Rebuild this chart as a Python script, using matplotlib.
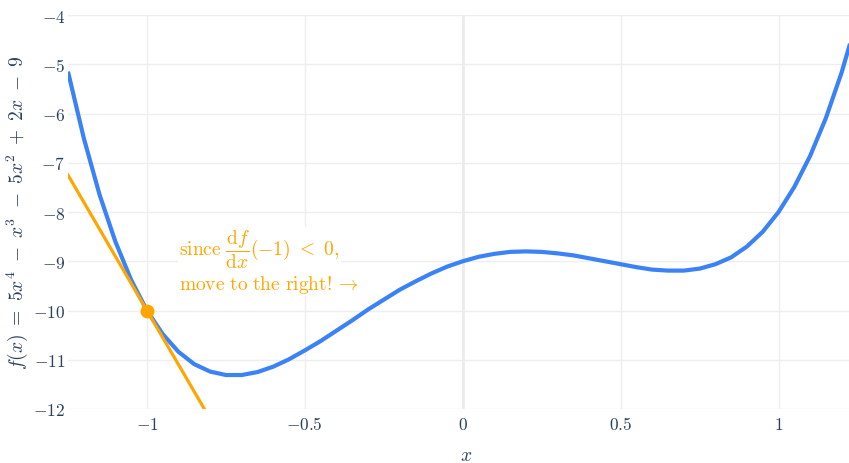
import matplotlib
matplotlib.use("Agg")
import matplotlib.pyplot as plt

plt.rcParams['mathtext.fontset'] = 'cm'
plt.rcParams['font.family'] = ['DejaVu Serif']

# curve values
xs = [-1.25, -1.20, -1.15, -1.10, -1.05, -1.00, -0.95, -0.90, -0.85, -0.80,
      -0.75, -0.70, -0.65, -0.60, -0.55, -0.50, -0.45, -0.40, -0.35, -0.30,
      -0.25, -0.20, -0.15, -0.10, -0.05, 0.00, 0.05, 0.10, 0.15, 0.20,
      0.25, 0.30, 0.35, 0.40, 0.45, 0.50, 0.55, 0.60, 0.65, 0.70,
      0.75, 0.80, 0.85, 0.90, 0.95, 1.00, 1.05, 1.10, 1.15, 1.20, 1.25]
ys = [-5.15, -6.50, -7.65, -8.60, -9.38, -10.00, -10.48, -10.84, -11.09, -11.24,
      -11.31, -11.31, -11.25, -11.14, -10.99, -10.81, -10.62, -10.41, -10.20, -9.98,
      -9.78, -9.58, -9.41, -9.25, -9.11, -9.00, -8.91, -8.85, -8.81, -8.80,
      -8.81, -8.84, -8.88, -8.94, -9.00, -9.06, -9.12, -9.17, -9.19, -9.19,
      -9.15, -9.06, -8.92, -8.70, -8.40, -8.00, -7.49, -6.86, -6.09, -5.16, -4.06]

# tangent at x = -1
tan_x = [-1.25, -0.75]
tan_y = [-7.25, -12.75]
pt_x = [-1.0]
pt_y = [-10.0]

xticks = [-1, -0.5, 0, 0.5, 1]
xtick_labels = ['$-1$', '$-0.5$', '$0$', '$0.5$', '$1$']
yticks = [-12, -11, -10, -9, -8, -7, -6, -5, -4]
ytick_labels = ['$-%d$' % (-v) for v in yticks]

blue = '#3b82f6'
orange = '#ffa500'
txt = '#2a3f5f'

fig = plt.figure(figsize=(8.49, 4.64), dpi=100)
ax = fig.add_axes([68/849, 54/464, 1 - 68/849, 394/464])

ax.plot(xs, ys, color=blue, lw=3, solid_capstyle='butt', zorder=3)
ax.plot(tan_x, tan_y, color=orange, lw=2.3, zorder=4)
ax.plot(pt_x, pt_y, 'o', color=orange, ms=9, zorder=5)

ax.text(-0.897, -8.894, r'$\mathrm{since}\ \dfrac{\mathrm{d}f}{\mathrm{d}x}(-1)\ <\ 0,$',
        color=orange, fontsize=14, va='baseline', ha='left', zorder=6,
        bbox=dict(facecolor='white', edgecolor='none', pad=1))
ax.text(-0.897, -9.563, r'$\mathrm{move\ to\ the\ right!} \rightarrow$',
        color=orange, fontsize=14, va='baseline', ha='left', zorder=6,
        bbox=dict(facecolor='white', edgecolor='none', pad=1))

ax.set_xlim(-1.25, 1.223)
ax.set_ylim(-12, -4)
ax.set_xticks(xticks)
ax.set_xticklabels(xtick_labels)
ax.set_yticks(yticks)
ax.set_yticklabels(ytick_labels)
ax.tick_params(length=0, labelsize=12.5, colors=txt)
ax.tick_params(axis='y', pad=2)
ax.tick_params(axis='x', pad=5)
ax.grid(True, color='#eeeeee', lw=1)
ax.axvline(0, color='#ebebeb', lw=1.8, zorder=1)
ax.set_axisbelow(True)
for s in ax.spines.values():
    s.set_visible(False)

ax.set_xlabel('$x$', fontsize=14, color=txt)
ax.xaxis.set_label_coords(0.51, -0.095)
ax.set_ylabel(r'$f(x)\ =\ 5x^4\ -\ x^3\ -\ 5x^2\ +\ 2x\ -\ 9$', fontsize=14, color=txt)
ax.yaxis.set_label_coords(-0.049, 0.5)

fig.savefig('out.png', dpi=100)
